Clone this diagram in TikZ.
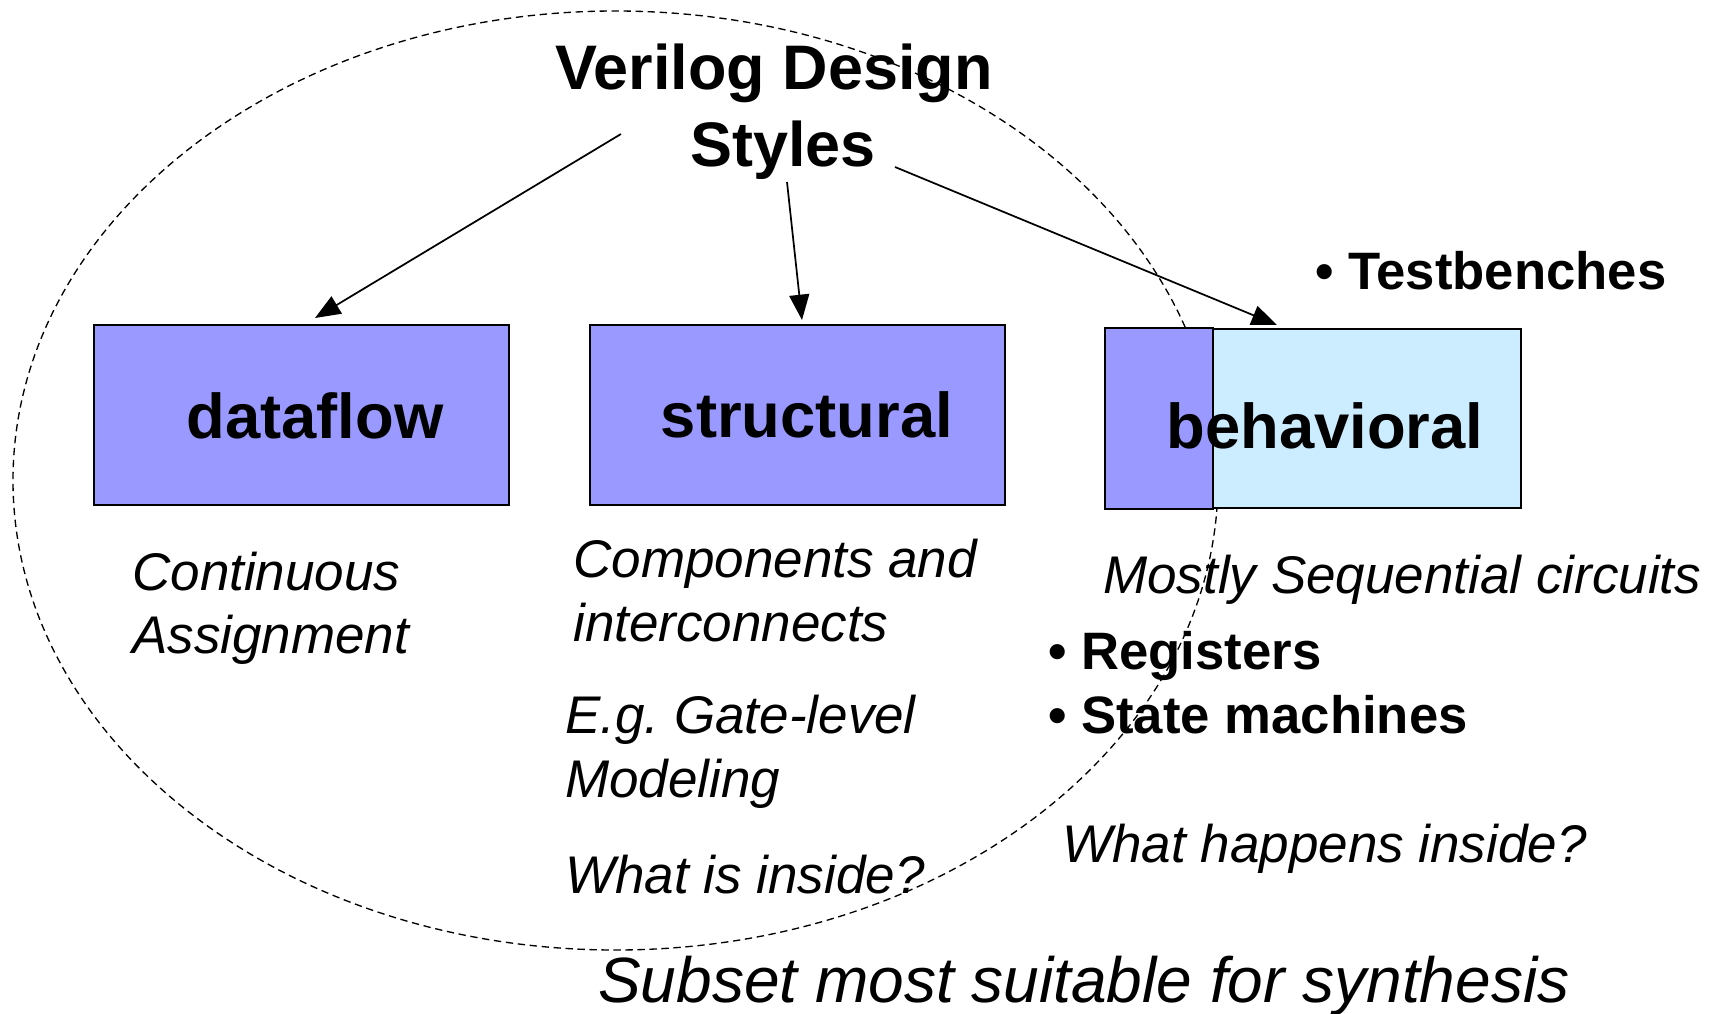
\documentclass[tikz,border=0pt]{standalone}
\usepackage{fontspec}
\setmainfont{Liberation Sans}
\usetikzlibrary{arrows.meta}
\definecolor{boxblue}{HTML}{9999FF}
\definecolor{lightblue}{HTML}{CCECFF}
\frenchspacing
\tikzset{
  stylebox/.style={draw=black, line width=1.4pt, fill=boxblue, inner sep=0pt,
    minimum width=311.25pt, minimum height=135pt},
  boxlabel/.style={anchor=base, inner sep=0pt, font=\fontsize{47.5pt}{57pt}\selectfont\bfseries},
  titletext/.style={anchor=base, inner sep=0pt, font=\fontsize{47.2pt}{57pt}\selectfont\bfseries},
  bullettext/.style={anchor=base west, inner sep=0pt, font=\fontsize{39.5pt}{48pt}\selectfont\bfseries},
  note/.style={anchor=base west, inner sep=0pt, font=\fontsize{39.75pt}{48pt}\selectfont\itshape},
  arr/.style={line width=1.3pt, -{Triangle[length=19pt,width=15pt]}},
  subsetline/.style={line width=1pt, dash pattern=on 5.5pt off 3.5pt},
}
\begin{document}
\begin{tikzpicture}[x=0.75pt,y=-0.75pt]
\useasboundingbox (0,0) rectangle (1721,1014);

% synthesizable subset
\draw[subsetline] (615.5,480.5) ellipse [x radius=602.5, y radius=469.5];

% the three design styles
\node[stylebox] (dataflow) at (301.5,415) {};
\node[stylebox] (structural) at (797.5,415) {};
\node[stylebox, fill=lightblue, line width=1.5pt, minimum height=134.25pt] (behavioral) at (1313.5,418.5) {};
\path[fill=boxblue, draw=black, line width=1.5pt]
  (behavioral.north west) rectangle ([xshift=81pt]behavioral.south west);

\node[boxlabel] (dflabel) at (315,438) {dataflow};
\node[boxlabel] (stlabel) at (807,437) {structural};
\node[boxlabel] (bhlabel) at (1325,448) {behavioral};

% title
\node[titletext] (title1) at (774,89) {Verilog Design};
\node[titletext] (title2) at (783,166) {Styles};

% arrows from the title to each style
\coordinate (a1s) at (621,134);
\coordinate (a1e) at (315,318);
\coordinate (a2s) at (787,182);
\coordinate (a2e) at (802,320);
\coordinate (a3s) at (895,167);
\coordinate (a3e) at (1277,325);
\draw[arr] (a1s) -- (a1e);
\draw[arr] (a2s) -- (a2e);
\draw[arr] (a3s) -- (a3e);

% notes
\node[bullettext] (tb) at (1315,289) {• Testbenches};

\node[note] (cont1) at (132,590) {Continuous};
\node[note] (cont2) at (132,653) {Assignment};

\node[note] (comp1) at (573,577) {Components and};
\node[note] (comp2) at (573,641) {interconnects};
\node[note] (eg1) at (565,733) {E.g. Gate-level};
\node[note] (eg2) at (565,797) {Modeling};
\node[note] (inside) at (565,893) {What is inside?};

\node[note] (mostly) at (1103,593) {Mostly Sequential circuits};
\node[bullettext] (regs) at (1048,669) {• Registers};
\node[bullettext] (fsm) at (1048,733) {• State machines};
\node[note] (happens) at (1062,862) {What happens inside?};

\node[note, font=\fontsize{48pt}{58pt}\selectfont\itshape] (subset) at (598,1002)
  {Subset most suitable for synthesis};
\end{tikzpicture}
\end{document}
